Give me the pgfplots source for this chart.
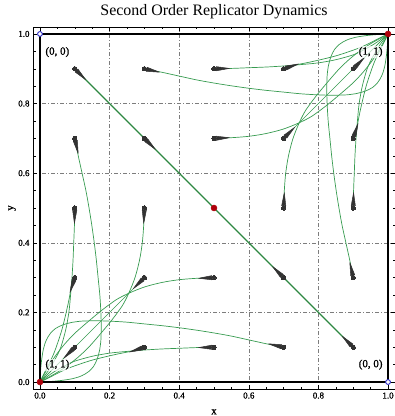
\documentclass[border=0pt]{standalone}
\usepackage{fontspec}
\setmainfont{Liberation Serif}
\newfontfamily\heavyfont{Liberation Serif}[FakeBold=1]
\usepackage{pgfplots}
\pgfplotsset{compat=1.18}
\usetikzlibrary{arrows.meta}
\definecolor{trajc}{RGB}{55,155,80}
\definecolor{diagc}{RGB}{45,135,65}
\definecolor{cometc}{RGB}{50,50,50}
\definecolor{gridc}{RGB}{125,125,125}
\definecolor{fixred}{RGB}{175,0,10}
\definecolor{fixblue}{RGB}{40,40,200}
\tikzset{
  traj/.style={trajc, line width=0.7bp, smooth, tension=0.5},
  comet/.style={draw=cometc, fill=cometc, line width=0.5bp, -{Triangle[length=15bp,width=4.6bp,round]},
    mark=*, mark indices={1}, mark size=2.2bp, mark options={cometc, line width=0bp}},
  lab/.style={font=\heavyfont\fontsize{11}{12}\selectfont, fill=white, fill opacity=0.7, text opacity=1, inner sep=1bp},
}
\begin{document}
\begin{tikzpicture}
\begin{axis}[
  scale only axis, width=362bp, height=362bp,
  xmin=-0.02, xmax=1.02, ymin=-0.02, ymax=1.02,
  xtick={0,0.2,0.4,0.6,0.8,1.0}, ytick={0,0.2,0.4,0.6,0.8,1.0},
  minor tick num=3,
  major tick length=4bp, minor tick length=2.5bp,
  tick style={black, line width=0.5bp},
  grid=major,
  major grid style={gridc, line width=0.6bp, dash pattern=on 4bp off 2bp on 1bp off 2bp},
  axis line style={black, line width=0.8bp},
  tick label style={font=\heavyfont\fontsize{9}{10}\selectfont},
  /pgf/number format/assume math mode=true,
  xticklabel style={/pgf/number format/.cd, fixed, fixed zerofill, precision=1},
  yticklabel style={/pgf/number format/.cd, fixed, fixed zerofill, precision=1},
  title={Second Order Replicator Dynamics},
  title style={font=\fontsize{16}{18}\selectfont, at={(axis description cs:0.5,1.0166)}, anchor=base},
  xlabel={x}, ylabel={y},
  xlabel style={font=\heavyfont\fontsize{11}{12}\selectfont, at={(axis description cs:0.5,-0.07)}, anchor=base},
  ylabel style={font=\heavyfont\fontsize{11}{12}\selectfont, at={(axis description cs:-0.058,0.5)}, anchor=center},
]
% ---- trajectories to (0,0) ----
\addplot[traj] coordinates {(0.1,0.1)(0,0)};
\addplot[traj] coordinates {(0.3,0.3)(0,0)};
\addplot[traj] coordinates {(0.3,0.1)(0.27,0.09)(0.23,0.082)(0.19,0.073)(0.15,0.063)(0.11,0.05)(0.08,0.039)(0.05,0.025)(0.025,0.012)(0,0)};
\addplot[traj] coordinates {(0.5,0.1)(0.45,0.099)(0.4,0.097)(0.35,0.095)(0.3,0.092)(0.25,0.088)(0.2,0.083)(0.15,0.074)(0.1,0.06)(0.07,0.046)(0.04,0.029)(0.02,0.015)(0,0)};
\addplot[traj] coordinates {(0.7,0.1)(0.65,0.11)(0.6,0.121)(0.55,0.132)(0.5,0.141)(0.45,0.149)(0.4,0.156)(0.35,0.162)(0.3,0.167)(0.25,0.172)(0.2,0.175)(0.16,0.176)(0.12,0.175)(0.09,0.171)(0.065,0.164)(0.045,0.154)(0.03,0.14)(0.018,0.12)(0.01,0.095)(0.005,0.065)(0.002,0.035)(0,0)};
\addplot[traj] coordinates {(0.5,0.3)(0.45,0.298)(0.4,0.294)(0.35,0.286)(0.3,0.273)(0.255,0.255)(0.22,0.237)(0.18,0.208)(0.14,0.175)(0.1,0.14)(0.07,0.108)(0.045,0.076)(0.025,0.045)(0.01,0.018)(0,0)};
\addplot[traj] coordinates {(0.1,0.3)(0.09,0.27)(0.082,0.23)(0.073,0.19)(0.063,0.15)(0.05,0.11)(0.039,0.08)(0.025,0.05)(0.012,0.025)(0,0)};
\addplot[traj] coordinates {(0.1,0.5)(0.099,0.45)(0.097,0.4)(0.095,0.35)(0.092,0.3)(0.088,0.25)(0.083,0.2)(0.074,0.15)(0.06,0.1)(0.046,0.07)(0.029,0.04)(0.015,0.02)(0,0)};
\addplot[traj] coordinates {(0.1,0.7)(0.11,0.65)(0.121,0.6)(0.132,0.55)(0.141,0.5)(0.149,0.45)(0.156,0.4)(0.162,0.35)(0.167,0.3)(0.172,0.25)(0.175,0.2)(0.176,0.16)(0.175,0.12)(0.171,0.09)(0.164,0.065)(0.154,0.045)(0.14,0.03)(0.12,0.018)(0.095,0.01)(0.065,0.005)(0.035,0.002)(0,0)};
\addplot[traj] coordinates {(0.3,0.5)(0.298,0.45)(0.294,0.4)(0.286,0.35)(0.273,0.3)(0.255,0.255)(0.237,0.22)(0.208,0.18)(0.175,0.14)(0.14,0.1)(0.108,0.07)(0.076,0.045)(0.045,0.025)(0.018,0.01)(0,0)};
% ---- trajectories to (1,1) ----
\addplot[traj] coordinates {(0.9,0.9)(1,1)};
\addplot[traj] coordinates {(0.7,0.7)(1,1)};
\addplot[traj] coordinates {(0.7,0.9)(0.73,0.91)(0.77,0.918)(0.81,0.927)(0.85,0.937)(0.89,0.95)(0.92,0.961)(0.95,0.975)(0.975,0.988)(1,1)};
\addplot[traj] coordinates {(0.5,0.9)(0.55,0.901)(0.6,0.903)(0.65,0.905)(0.7,0.908)(0.75,0.912)(0.8,0.917)(0.85,0.926)(0.9,0.94)(0.93,0.954)(0.96,0.971)(0.98,0.985)(1,1)};
\addplot[traj] coordinates {(0.3,0.9)(0.35,0.89)(0.4,0.879)(0.45,0.868)(0.5,0.859)(0.55,0.851)(0.6,0.844)(0.65,0.838)(0.7,0.833)(0.75,0.828)(0.8,0.825)(0.84,0.824)(0.88,0.825)(0.91,0.829)(0.935,0.836)(0.955,0.846)(0.97,0.86)(0.982,0.88)(0.99,0.905)(0.995,0.935)(0.998,0.965)(1,1)};
\addplot[traj] coordinates {(0.5,0.7)(0.55,0.702)(0.6,0.706)(0.65,0.714)(0.7,0.727)(0.745,0.745)(0.78,0.763)(0.82,0.792)(0.86,0.825)(0.9,0.86)(0.93,0.892)(0.955,0.924)(0.975,0.955)(0.99,0.982)(1,1)};
\addplot[traj] coordinates {(0.9,0.7)(0.91,0.73)(0.918,0.77)(0.927,0.81)(0.937,0.85)(0.95,0.89)(0.961,0.92)(0.975,0.95)(0.988,0.975)(1,1)};
\addplot[traj] coordinates {(0.9,0.5)(0.901,0.55)(0.903,0.6)(0.905,0.65)(0.908,0.7)(0.912,0.75)(0.917,0.8)(0.926,0.85)(0.94,0.9)(0.954,0.93)(0.971,0.96)(0.985,0.98)(1,1)};
\addplot[traj] coordinates {(0.9,0.3)(0.89,0.35)(0.879,0.4)(0.868,0.45)(0.859,0.5)(0.851,0.55)(0.844,0.6)(0.838,0.65)(0.833,0.7)(0.828,0.75)(0.825,0.8)(0.824,0.84)(0.825,0.88)(0.829,0.91)(0.836,0.935)(0.846,0.955)(0.86,0.97)(0.88,0.982)(0.905,0.99)(0.935,0.995)(0.965,0.998)(1,1)};
\addplot[traj] coordinates {(0.7,0.5)(0.702,0.55)(0.706,0.6)(0.714,0.65)(0.727,0.7)(0.745,0.745)(0.763,0.78)(0.792,0.82)(0.825,0.86)(0.86,0.9)(0.892,0.93)(0.924,0.955)(0.955,0.975)(0.982,0.99)(1,1)};
% ---- diagonal ----
\addplot[diagc, line width=1.4bp] coordinates {(0.1,0.9)(0.9,0.1)};
% ---- comets (start point, then point along the initial direction) ----
\addplot[comet] coordinates {(0.1,0.1)(0.068,0.068)};
\addplot[comet] coordinates {(0.3,0.3)(0.268,0.268)};
\addplot[comet] coordinates {(0.3,0.1)(0.257,0.086)};
\addplot[comet] coordinates {(0.5,0.1)(0.455,0.099)};
\addplot[comet] coordinates {(0.7,0.1)(0.656,0.110)};
\addplot[comet] coordinates {(0.5,0.3)(0.455,0.298)};
\addplot[comet] coordinates {(0.1,0.3)(0.086,0.257)};
\addplot[comet] coordinates {(0.1,0.5)(0.099,0.455)};
\addplot[comet] coordinates {(0.1,0.7)(0.110,0.656)};
\addplot[comet] coordinates {(0.3,0.5)(0.298,0.455)};
\addplot[comet] coordinates {(0.9,0.9)(0.932,0.932)};
\addplot[comet] coordinates {(0.7,0.7)(0.732,0.732)};
\addplot[comet] coordinates {(0.7,0.9)(0.743,0.914)};
\addplot[comet] coordinates {(0.5,0.9)(0.545,0.901)};
\addplot[comet] coordinates {(0.3,0.9)(0.344,0.890)};
\addplot[comet] coordinates {(0.5,0.7)(0.545,0.702)};
\addplot[comet] coordinates {(0.9,0.7)(0.914,0.743)};
\addplot[comet] coordinates {(0.9,0.5)(0.901,0.545)};
\addplot[comet] coordinates {(0.9,0.3)(0.890,0.344)};
\addplot[comet] coordinates {(0.7,0.5)(0.702,0.545)};
\addplot[comet] coordinates {(0.1,0.9)(0.132,0.868)};
\addplot[comet] coordinates {(0.3,0.7)(0.332,0.668)};
\addplot[comet] coordinates {(0.7,0.3)(0.668,0.332)};
\addplot[comet] coordinates {(0.9,0.1)(0.868,0.132)};
% ---- simplex boundary ----
\addplot[black, line width=1.2bp] coordinates {(0,0)(1,0)(1,1)(0,1)(0,0)};
% ---- labels ----
\node[lab] at (axis cs:0.05,0.948) {(0, 0)};
\node[lab] at (axis cs:0.95,0.948) {(1, 1)};
\node[lab] at (axis cs:0.05,0.05) {(1, 1)};
\node[lab] at (axis cs:0.95,0.05) {(0, 0)};
% ---- fixed points ----
\addplot[only marks, mark=*, mark size=2.4bp, fixblue, mark options={fill=white, line width=0.9bp}] coordinates {(0,1)(1,0)};
\addplot[only marks, mark=*, mark size=3bp, fixred] coordinates {(0,0)(1,1)(0.5,0.5)};
\end{axis}
\pgfresetboundingbox
\path[use as bounding box] ([xshift=-33bp,yshift=-27bp]current axis.south west) rectangle ([yshift=27bp]current axis.north east);
\end{tikzpicture}
\end{document}
